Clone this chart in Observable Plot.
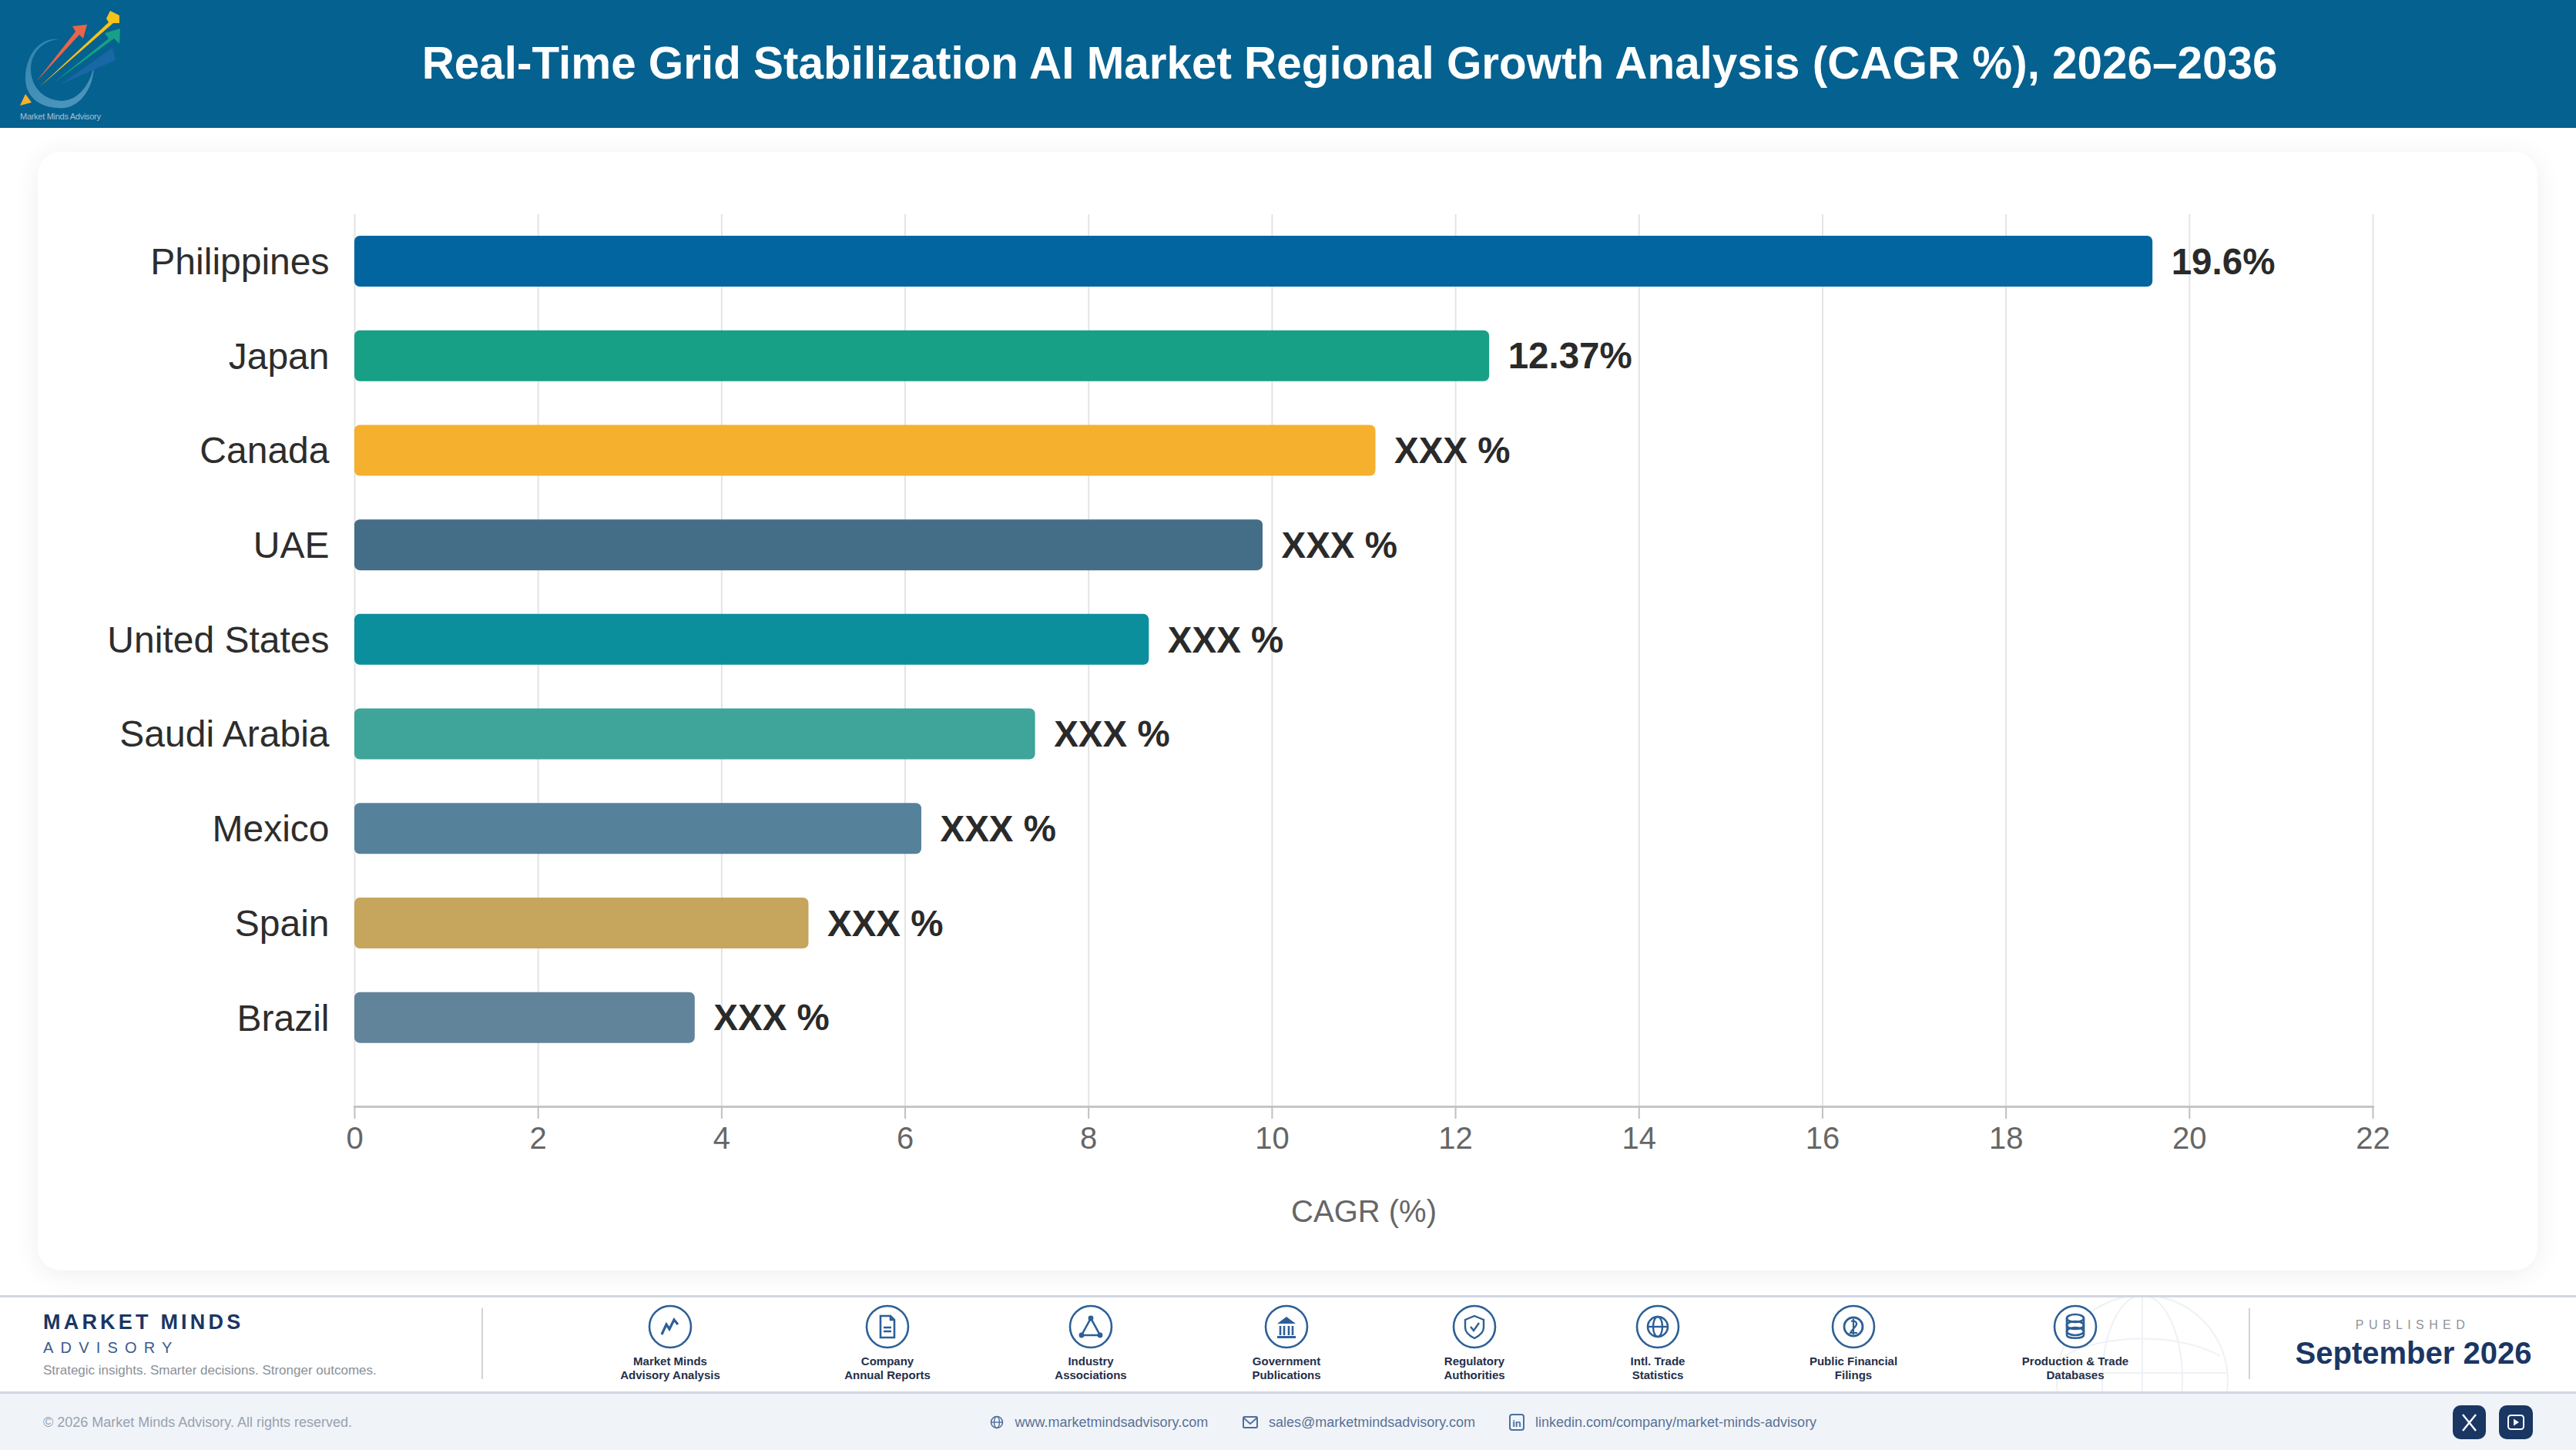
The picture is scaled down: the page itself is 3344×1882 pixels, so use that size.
<!DOCTYPE html>
<html>
<head>
<meta charset="utf-8">
<script src="https://cdn.jsdelivr.net/npm/d3@7"></script>
<script src="https://cdn.jsdelivr.net/npm/@observablehq/plot@0.6"></script>
<style>
html,body{margin:0;padding:0;background:#fff;overflow:hidden}
body{width:3344px;height:1882px;position:relative;font-family:"Liberation Sans",Arial,sans-serif}
.abs{position:absolute}
.t{position:absolute;white-space:nowrap;line-height:1}
</style>
</head>
<body>
<div id="page" class="abs" style="left:0;top:0;width:3344px;height:1882px;overflow:hidden"></div>
<script>
const categories = ["Philippines","Japan","Canada","UAE","United States","Saudi Arabia","Mexico","Spain","Brazil"];
const cagrValues = [19.6,12.37,11.13,9.9,8.66,7.42,6.18,4.95,3.71];
const valueLabels = ["19.6%","12.37%","XXX %","XXX %","XXX %","XXX %","XXX %","XXX %","XXX %"];
const barColors = ["#03659f","#17a085","#f5b02e","#446d88","#0c8f9d","#3fa499","#55819b","#c6a55c","#62849b"];
const xTicks = [0,2,4,6,8,10,12,14,16,18,20,22];
const titleText = "Real-Time Grid Stabilization AI Market Regional Growth Analysis (CAGR %), 2026–2036";
const sourceLabels = [["Market Minds","Advisory Analysis"],["Company","Annual Reports"],["Industry","Associations"],["Government","Publications"],["Regulatory","Authorities"],["Intl. Trade","Statistics"],["Public Financial","Filings"],["Production & Trade","Databases"]];
const sourceCentres = [870,1152,1416,1670,1914,2152,2406,2694];

const page = document.getElementById("page");
function box(l,t,w,h,css){const d=document.createElement("div");d.className="abs";d.style.cssText=`left:${l}px;top:${t}px;width:${w}px;height:${h}px;${css||""}`;page.appendChild(d);return d;}
function txt(x,y,s,css,anchor){const d=document.createElement("div");d.className="t";d.textContent=s;
  const tx=anchor==="middle"?"-50%":anchor==="end"?"-100%":"0";
  d.style.cssText=`left:${x}px;top:${y}px;transform:translate(${tx},-50%);${css||""}`;page.appendChild(d);return d;}

// header
box(0,0,3344,166,"background:#05618f");
txt(1752,82,titleText,"color:#fff;font-weight:700;font-size:58.4px;","middle");

// card
box(49,197,3245,1452,"background:#fff;border-radius:30px;box-shadow:0 4px 34px rgba(0,0,0,.07)");

// footer bands
box(0,1681,3344,126,"background:#fff;border-top:3px solid #d3d6e2;box-sizing:border-box");
box(0,1806,3344,76,"background:#f0f4f9;border-top:3px solid #d3d6e2;box-sizing:border-box");

// chart
const rows = categories.map((c,i)=>({category:c,value:cagrValues[i],label:valueLabels[i],color:barColors[i]}));
const chart = Plot.plot({
  width:3344,height:1483,
  marginLeft:460,marginRight:264,marginTop:112,marginBottom:213,
  style:{background:"transparent",fontFamily:'"Liberation Sans",Arial,sans-serif',overflow:"visible"},
  x:{domain:[0,22],ticks:xTicks},
  y:{domain:categories,range:[111.7,1216],paddingInner:0.462,paddingOuter:0.231,round:false,align:0.5},
  marks:[
    Plot.gridX(xTicks,{stroke:"#e4e4e4",strokeOpacity:1,strokeWidth:2}),
    Plot.frame({anchor:"bottom",stroke:"#c6c6c6",strokeWidth:3}),
    Plot.barX(rows,{x:"value",y:"category",fill:"color",rx:7}),
    Plot.text(rows,{x:"value",y:"category",text:"label",textAnchor:"start",dx:24,dy:1,fontSize:47.5,fontWeight:700,fill:"#2a2a2a"}),
    Plot.axisY({tickSize:0,tickPadding:33,fontSize:48,color:"#2d2d2d",label:null,dy:1}),
    Plot.axisX(xTicks,{tickSize:16,tickPadding:10,fontSize:40,tickFormat:"d",stroke:"#c0c0c0",strokeWidth:2,color:"#666",fill:"#666",label:"CAGR (%)",labelAnchor:"center",labelArrow:"none",labelOffset:149})
  ]
});
chart.style.position="absolute";chart.style.left="0";chart.style.top="166px";
page.appendChild(chart);

// decorative svg (logo, globe, icons)
const NS="http://www.w3.org/2000/svg";
const deco=document.createElementNS(NS,"svg");
deco.setAttribute("width",3344);deco.setAttribute("height",1882);
deco.style.cssText="position:absolute;left:0;top:0;pointer-events:none";
const ic="#2d5f97";
const iconBodies=[
 `<polyline points="-11,10 -5,-3 -1,3 5,-9 10,-3" fill="none" stroke="${ic}" stroke-width="3.2"/>`,
 `<path d="M-9,-14H4L9,-9V14H-9Z M4,-14V-9H9 M-5,1H5 M-5,6H5" fill="none" stroke="${ic}" stroke-width="2.6"/>`,
 `<path d="M0,-11L-12,11H12Z" fill="none" stroke="${ic}" stroke-width="2.6"/><circle cy="-11" r="3.4" fill="${ic}"/><circle cx="-12" cy="11" r="3.4" fill="${ic}"/><circle cx="12" cy="11" r="3.4" fill="${ic}"/>`,
 `<path d="M0,-13L-12,-4H12Z" fill="${ic}"/><path d="M-8,-1V11M-3,-1V11M3,-1V11M8,-1V11" stroke="${ic}" stroke-width="2.6"/><rect x="-12" y="12" width="24" height="3" fill="${ic}"/>`,
 `<path d="M0,-14L12,-9V1C12,8 6,12 0,15C-6,12 -12,8 -12,1V-9Z" fill="none" stroke="${ic}" stroke-width="2.4"/><path d="M-5,0L-1,5L6,-5" fill="none" stroke="${ic}" stroke-width="2.4"/>`,
 `<circle r="13" fill="none" stroke="${ic}" stroke-width="2.6"/><ellipse rx="6" ry="13" fill="none" stroke="${ic}" stroke-width="2.4"/><path d="M-13,0H13" stroke="${ic}" stroke-width="2.4"/>`,
 `<circle r="12" fill="none" stroke="${ic}" stroke-width="2.8"/><path d="M-3,-7C2,-9 6,-5 3,-1C0,3 -3,5 -4,8H5M0,-10V10" fill="none" stroke="${ic}" stroke-width="2.2"/>`,
 `<path d="M-11,-11V11C-11,16 11,16 11,11V-11" fill="none" stroke="${ic}" stroke-width="2.6"/><ellipse cy="-11" rx="11" ry="5" fill="none" stroke="${ic}" stroke-width="2.6"/><ellipse cy="-2" rx="11" ry="5" fill="none" stroke="${ic}" stroke-width="2.6"/><ellipse cy="6" rx="11" ry="5" fill="none" stroke="${ic}" stroke-width="2.6"/>`
];
const link="#4f6f9c";
let inner=`
<defs><clipPath id="fc"><rect x="0" y="1684" width="3344" height="122"/></clipPath>
<linearGradient id="ring" x1="0" y1="0" x2="0.3" y2="1"><stop offset="0" stop-color="#2e84ad"/><stop offset="1" stop-color="#4a93ba"/></linearGradient></defs>
<g clip-path="url(#fc)" fill="none" stroke="#eef1f5" stroke-width="2">
 <circle cx="2781" cy="1792" r="111"/><ellipse cx="2781" cy="1792" rx="52" ry="111"/>
 <path d="M2670,1782H2892M2781,1681V1806"/><path d="M2680,1760C2730,1730 2830,1730 2882,1760"/>
</g>
<path d="M78,51C47,47 32,78 33,104C35,132 60,142 84,140C106,137 122,112 122,85C117,110 102,130 80,131C56,130 40,112 40,90C40,68 56,52 78,51Z" fill="url(#ring)"/>
<path d="M26,137L41,133L33,122Z" fill="#f5b02e"/>
<path d="M47,106L98,41L94,34L113,32L108,50L103,45Z" fill="#e8654a"/>
<path d="M78,110L146,62L150,78Z" fill="#1768a4"/>
<path d="M69,108L141,50L136,43L156,37L155,57L148,50Z" fill="#17a085"/>
<path d="M51,113L141,29L138,24L143,14L155,20L155,30L147,30Z" fill="#f6c21c"/>
<text x="26" y="155" font-size="11" fill="#a9c0cf" font-family="Liberation Sans" textLength="105">Market Minds Advisory</text>
<g transform="translate(1294,1846)"><circle r="7.5" fill="none" stroke="${link}" stroke-width="1.6"/><ellipse rx="3.5" ry="7.5" fill="none" stroke="${link}" stroke-width="1.4"/><path d="M-7.5,0H7.5" stroke="${link}" stroke-width="1.4"/></g>
<g transform="translate(1623,1846)"><rect x="-9" y="-7" width="18" height="14" rx="1.5" fill="none" stroke="${link}" stroke-width="2"/><path d="M-9,-6L0,2L9,-6" fill="none" stroke="${link}" stroke-width="1.8"/></g>
<g transform="translate(1969,1846)"><rect x="-9" y="-10" width="18" height="20" rx="3" fill="none" stroke="${link}" stroke-width="2"/><text y="6" font-size="13" font-weight="700" text-anchor="middle" fill="${link}" font-family="Liberation Sans">in</text></g>
<rect x="3184" y="1824" width="43" height="44" rx="10" fill="#1a3663"/>
<rect x="3244" y="1824" width="44" height="44" rx="10" fill="#1a3663"/>
<path d="M3197,1836L3214,1857M3214,1836L3197,1857" stroke="#fff" stroke-width="2.4"/>
<rect x="3256" y="1837" width="20" height="18" rx="3.5" fill="none" stroke="#fff" stroke-width="2"/><path d="M3263,1841.5L3270,1846L3263,1850.5Z" fill="#fff"/>
`;
sourceCentres.forEach((cx,i)=>{inner+=`<g transform="translate(${cx},1722)"><circle r="27" fill="#fff" stroke="${ic}" stroke-width="2.6"/>${iconBodies[i]}</g>`;});
deco.innerHTML=inner;
page.appendChild(deco);

// footer text
box(625,1698,2,92,"background:#d3d3d3");
box(2919,1698,2,92,"background:#d3d3d3");
txt(56,1716,"MARKET MINDS","color:#1a3663;font-weight:700;font-size:27px;letter-spacing:4.2px");
txt(56,1749,"ADVISORY","color:#3b5b8d;font-size:20px;letter-spacing:9.2px");
txt(56,1778,"Strategic insights. Smarter decisions. Stronger outcomes.","color:#8b9099;font-size:17px");
sourceLabels.forEach((l,i)=>{
  txt(sourceCentres[i],1766,l[0],"color:#242f4a;font-weight:700;font-size:15px","middle");
  txt(sourceCentres[i],1784,l[1],"color:#242f4a;font-weight:700;font-size:15px","middle");
});
txt(3132,1720,"PUBLISHED","color:#8f939b;font-size:16px;letter-spacing:6.4px;font-weight:400","middle");
txt(3133,1756,"September 2026","color:#1a3663;font-weight:700;font-size:40px","middle");
txt(56,1846,"© 2026 Market Minds Advisory. All rights reserved.","color:#9aa1ad;font-size:18px");
txt(1317.5,1846,"www.marketmindsadvisory.com","color:#5a7196;font-size:18px");
txt(1647,1846,"sales@marketmindsadvisory.com","color:#5a7196;font-size:18px");
txt(1993,1846,"linkedin.com/company/market-minds-advisory","color:#5a7196;font-size:18px");
</script>
</body>
</html>
